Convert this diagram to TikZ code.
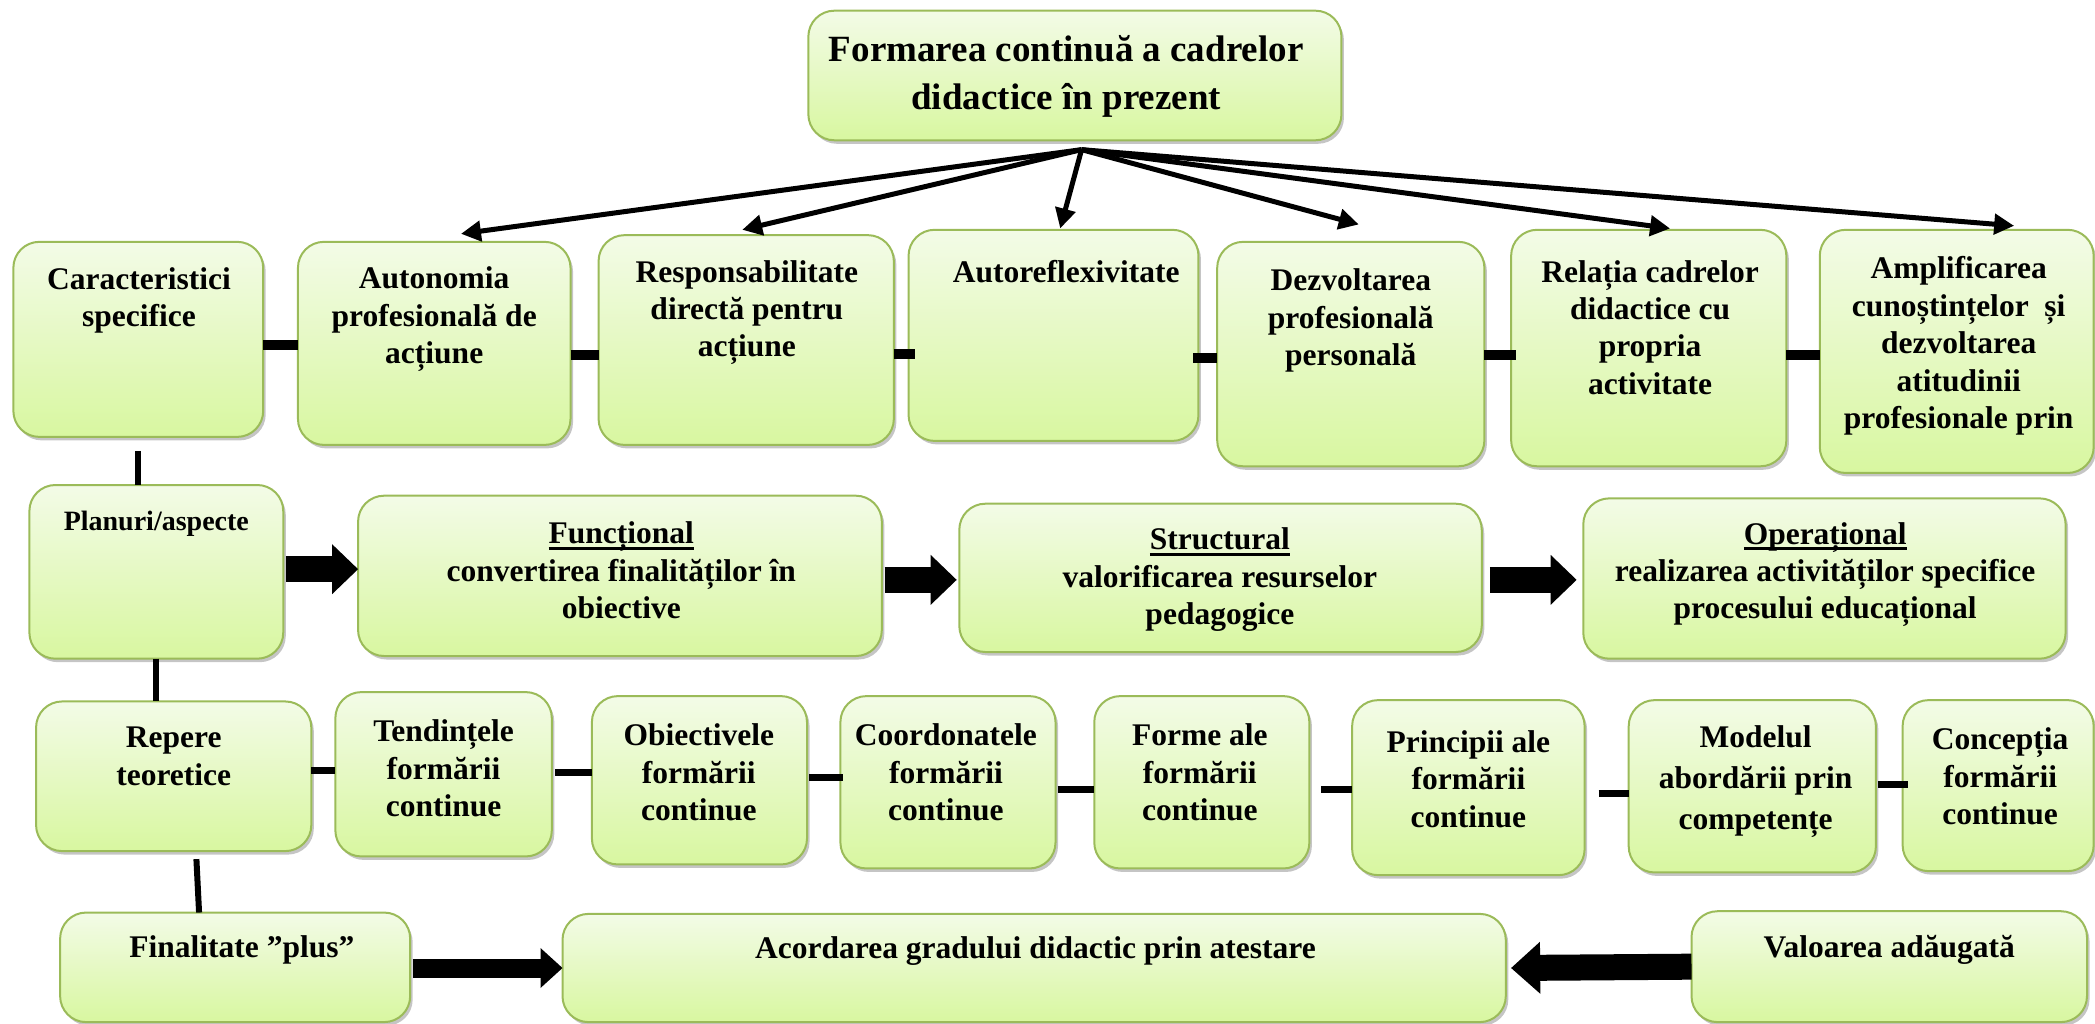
\documentclass[tikz,border=0pt]{standalone}
\usepackage{fontspec}
\setmainfont{Liberation Serif}
\usetikzlibrary{arrows.meta,shadows,fit,calc}
\definecolor{bordc}{RGB}{155,187,89}
\definecolor{topc}{RGB}{243,251,231}
\definecolor{botc}{RGB}{216,247,160}
\newcommand\myul[1]{\setbox0\hbox{#1}\rlap{\rule[-6pt]{\wd0}{2.6pt}}\box0}
\begin{document}
\begin{tikzpicture}[x=1.336pt,y=-1.336pt,
  box/.style={draw=bordc,line width=2pt,rounded corners=26pt,top color=topc,bottom color=botc,
    inner sep=0pt,outer sep=0pt,
    drop shadow={shadow xshift=2.5pt,shadow yshift=-3.5pt,fill=black!45}},
  txt/.style={font=\fontsize{31.5}{37.4}\selectfont\bfseries,align=center,inner sep=0pt},
  ptr/.style={line width=5pt,-{Triangle[length=20pt,width=20pt]}},
  tie/.style={line width=10pt},
  tiesm/.style={line width=7pt},
  vtie/.style={line width=6pt},
  blka/.style={line width=26pt,-{Triangle[length=26pt,width=50pt,line width=0pt]}},
  blkb/.style={line width=19pt,-{Triangle[length=22pt,width=40pt,line width=0pt]}},
  blkc/.style={line width=26pt,-{Triangle[length=29pt,width=52pt,line width=0pt]}}]
\useasboundingbox (0,0) rectangle (1568,766);
% ---------- boxes ----------
\node[box,fit={(605,8)(1004,105)}] (top) {};
% row 1
\node[box,fit={(10,181)(197,327)}] (car) {};
\node[box,fit={(223,181)(427,333)}] (aut) {};
\node[box,fit={(448,176)(669,333)}] (resp) {};
\node[box,fit={(680,172)(897,330)}] (aref) {};
\node[box,fit={(911,181)(1111,349)}] (dezv) {};
\node[box,fit={(1131,172)(1337,349)}] (rel) {};
\node[box,fit={(1362,172)(1567,354)}] (ampl) {};
% row 2
\node[box,fit={(22,363)(212,493)}] (plan) {};
\node[box,fit={(268,371)(660,491)}] (func) {};
\node[box,fit={(718,377)(1109,488)}] (struc) {};
\node[box,fit={(1185,373)(1546,493)}] (oper) {};
% row 3
\node[box,fit={(27,525)(233,637)}] (rep) {};
\node[box,fit={(251,518)(413,641)}] (tend) {};
\node[box,fit={(443,521)(604,647)}] (obj) {};
\node[box,fit={(629,521)(790,650)}] (coord) {};
\node[box,fit={(819,521)(980,650)}] (forme) {};
\node[box,fit={(1012,524)(1186,655)}] (princ) {};
\node[box,fit={(1219,524)(1404,653)}] (model) {};
\node[box,fit={(1424,524)(1567,652)}] (conc) {};
% row 4
\node[box,fit={(45,683)(307,765)}] (fin) {};
\node[box,fit={(421,684)(1127,765)}] (acord) {};
\node[box,fit={(1266,682)(1562,765)}] (val) {};
% ---------- texts ----------
\node[txt,font=\fontsize{37}{48}\selectfont\bfseries] (t-top) at (798,57) {Formarea continuă a cadrelor\\didactice în prezent};
\node[txt] (t-car) at (104,225) {Caracteristici\\specifice};
\node[txt] (t-aut) at (325,239) {Autonomia\\profesională de\\acțiune};
\node[txt] (t-resp) at (559,234) {Responsabilitate\\directă pentru\\acțiune};
\node[txt] (t-aref) at (798,203) {Autoreflexivitate};
\node[txt] (t-dezv) at (1011,240) {Dezvoltarea\\profesională\\personală};
\node[txt] (t-rel) at (1235,245) {Relația cadrelor\\didactice cu\\propria\\activitate};
\node[txt] (t-ampl) at (1466,259) {Amplificarea\\cunoștințelor~ și\\dezvoltarea\\atitudinii\\profesionale prin};
\node[txt,font=\fontsize{28}{34}\selectfont\bfseries] (t-plan) at (117,392) {Planuri/aspecte};
\node[txt] (t-func) at (465,427) {\myul{Funcțional}\\convertirea finalităților în\\obiective};
\node[txt] (t-struc) at (913,434) {\myul{Structural}\\valorificarea resurselor\\pedagogice};
\node[txt] (t-oper) at (1366,430) {\myul{Operațional}\\realizarea activităților specifice\\procesului educațional};
\node[txt] (t-rep) at (130,566) {Repere\\teoretice};
\node[txt] (t-tend) at (332,575) {Tendințele\\formării\\continue};
\node[txt] (t-obj) at (523,578) {Obiectivele\\formării\\continue};
\node[txt] (t-coord) at (708,578) {Coordonatele\\formării\\continue};
\node[txt] (t-forme) at (898,578) {Forme ale\\formării\\continue};
\node[txt] (t-princ) at (1099,583) {Principii ale\\formării\\continue};
\node[txt,font=\fontsize{31.5}{41}\selectfont\bfseries] (t-model) at (1314,585) {Modelul\\abordării prin\\competențe};
\node[txt] (t-conc) at (1497,581) {Concepția\\formării\\continue};
\node[txt] (t-fin) at (181,711) {Finalitate ”plus”};
\node[txt] (t-acord) at (775,712) {Acordarea gradului didactic prin atestare};
\node[txt] (t-val) at (1414,711) {Valoarea adăugată};
% ---------- arrows from the title ----------
\coordinate (src) at ($(top.south)+(5,7)$);
\draw[ptr] (src) -- ($(aut.north)+(20,-6)$);
\draw[ptr] (src) -- ($(resp.north)+(-3,-4)$);
\draw[ptr] (src) -- ($(aref.north)+(5,-1)$);
\draw[ptr] (src) -- ($(dezv.north)+(6,-13)$);
\draw[ptr] (src) -- ($(rel.north)+(16,-1)$);
\draw[ptr] (src) -- ($(ampl.north)+(43,-3)$);
% ---------- row 1 ties ----------
\draw[tie] (car.east |- 0,258) -- (aut.west |- 0,258);
\draw[tie] (aut.east |- 0,266) -- (resp.west |- 0,266);
\draw[tie] (resp.east |- 0,265) -- ([xshift=6pt]aref.west |- 0,265);
\draw[tie] ([xshift=-5pt]aref.east |- 0,268) -- (dezv.west |- 0,268);
\draw[tie] (dezv.east |- 0,266) -- ([xshift=5pt]rel.west |- 0,266);
\draw[tie] (rel.east |- 0,266) -- (ampl.west |- 0,266);
% ---------- row 3 ties ----------
\draw[tiesm] (rep.east |- 0,577) -- (tend.west |- 0,577);
\draw[tiesm] ([xshift=3pt]tend.east |- 0,578) -- (obj.west |- 0,578);
\draw[tiesm] ([xshift=2pt]obj.east |- 0,582) -- ([xshift=3pt]coord.west |- 0,582);
\draw[tiesm] ([xshift=2pt]coord.east |- 0,591) -- (forme.west |- 0,591);
\draw[tiesm] ([xshift=12pt]forme.east |- 0,591) -- (princ.west |- 0,591);
\draw[tiesm] ([xshift=14pt]princ.east |- 0,594) -- (model.west |- 0,594);
\draw[tiesm] ([xshift=2pt]model.east |- 0,587) -- ([xshift=5pt]conc.west |- 0,587);
% ---------- vertical ties ----------
\draw[vtie] ([yshift=-14pt]car.south) -- (car.south |- plan.north);
\draw[vtie] (plan.south) -- (plan.south |- rep.north);
\draw[vtie] ($(rep.south)+(17,6)$) -- ($(fin.north)+(-27,0)$);
% ---------- block arrows ----------
\draw[blka] ($(plan.east)+(2,-2)$) -- ($(func.west)+(0,-5)$);
\draw[blka] ($(func.east)+(2,3)$) -- ($(struc.west)+(-2,1.5)$);
\draw[blka] ($(struc.east)+(6,1.5)$) -- ($(oper.west)+(-5,1)$);
\draw[blkb] ($(fin.east)+(2,0.5)$) -- ($(acord.west)+(0,0)$);
\draw[blkc] ($(val.east)!1!(val.west)$) -- ($(acord.east)+(4,0)$);
\end{tikzpicture}
\end{document}
